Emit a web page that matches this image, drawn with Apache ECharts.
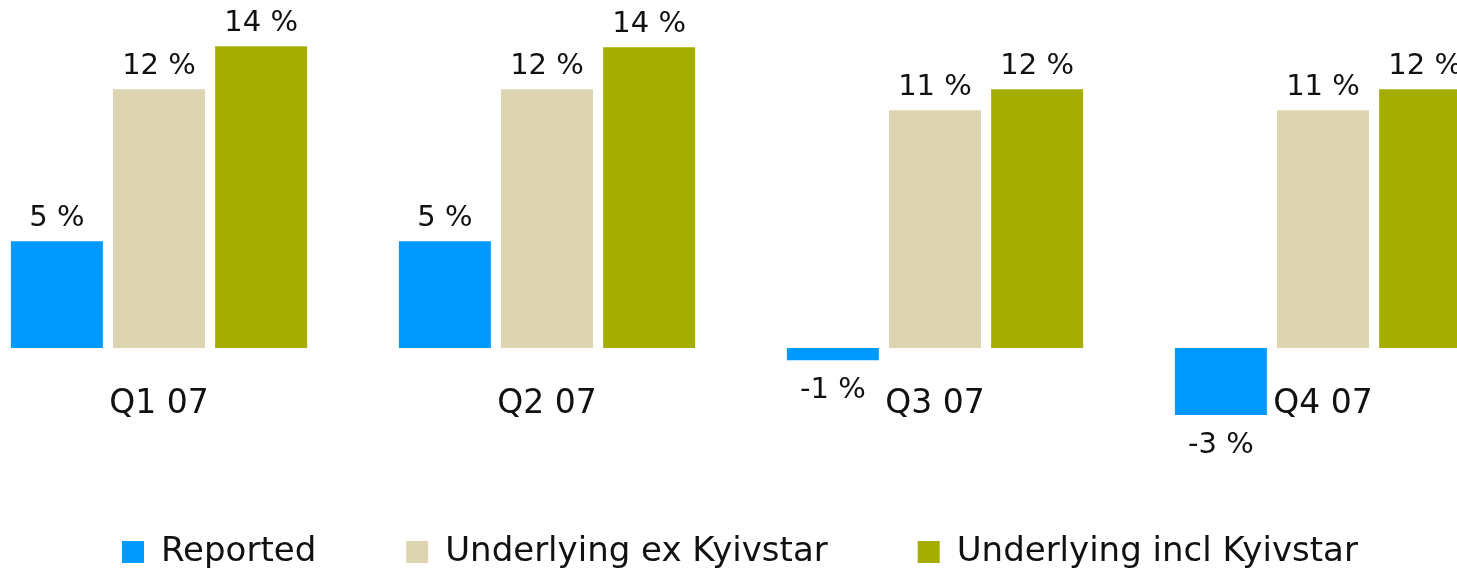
<!DOCTYPE html>
<html>
<head>
<meta charset="utf-8">
<script src="https://cdn.jsdelivr.net/npm/echarts@6/dist/echarts.min.js"></script>
<style>
  html, body { margin: 0; padding: 0; background: #fff; }
  #chart { width: 1457px; height: 570px; }
</style>
</head>
<body>
<div id="chart"></div>
<script>
const categories = ['Q1 07', 'Q2 07', 'Q3 07', 'Q4 07']
const reported = [4.96, 4.96, -0.56, -3.1]
const underlyingEx = [12, 12, 11.03, 11.03]
const underlyingIncl = [14, 13.95, 12, 12]

const FONT = '"DejaVu Sans", Verdana, sans-serif'

// negative bars get their label under the bar
function toItems(values) {
  return values.map(function(v) {
    return {
      value: v,
      label: v < 0 ? { position: 'bottom', distance: 16 } : { position: 'top' }
    }
  })
}

function makeSeries(name, values, color) {
  return {
    name: name,
    type: 'bar',
    barWidth: 92,
    barGap: '11%',
    data: toItems(values),
    itemStyle: { color: color },
    label: {
      show: true,
      distance: 8,
      color: '#111',
      fontFamily: FONT,
      fontSize: 29,
      formatter: function(p) {
        return Math.round(p.value) + ' %'
      }
    },
    animation: false
  }
}

const chart = echarts.init(document.getElementById('chart'))
chart.setOption({
  backgroundColor: '#fff',
  grid: {
    left: -35,
    width: 1552,
    top: 3,
    height: 431.4,
    outerBoundsMode: 'none'
  },
  legend: {
    left: 117,
    top: 530,
    itemWidth: 22,
    itemHeight: 22,
    itemGap: 90,
    icon: 'rect',
    textStyle: {
      fontFamily: FONT,
      fontSize: 34,
      color: '#111',
      padding: [0, 0, 0, 12]
    },
    data: ['Reported', 'Underlying ex Kyivstar', 'Underlying incl Kyivstar']
  },
  xAxis: {
    type: 'category',
    data: categories,
    // labels sit under the zero line, not the grid bottom
    offset: -86.4,
    axisLine: { show: false },
    axisTick: { show: false },
    axisLabel: {
      margin: 40,
      color: '#111',
      fontFamily: FONT,
      fontSize: 33
    }
  },
  yAxis: {
    type: 'value',
    min: -4,
    max: 16,
    show: false,
    splitLine: { show: false }
  },
  series: [
    makeSeries('Reported', reported, '#0099FF'),
    makeSeries('Underlying ex Kyivstar', underlyingEx, '#DDD4B1'),
    makeSeries('Underlying incl Kyivstar', underlyingIncl, '#A5AE00')
  ]
})
</script>
</body>
</html>
